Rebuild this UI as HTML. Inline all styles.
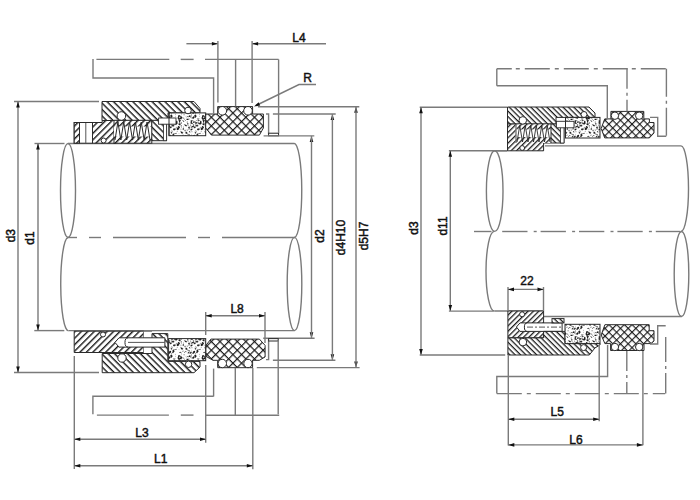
<!DOCTYPE html>
<html><head><meta charset="utf-8"><style>
html,body{margin:0;padding:0;background:#fff;}
svg{display:block;}
text{font-family:"Liberation Sans",sans-serif;fill:#111;stroke:#111;stroke-width:0.45px;}
</style></head><body>
<svg width="700" height="500" viewBox="0 0 700 500">
<defs>
<filter id="bl" x="0" y="0" width="700" height="500" filterUnits="userSpaceOnUse"><feGaussianBlur stdDeviation="0.45"/></filter>
<pattern id="hA" patternUnits="userSpaceOnUse" width="4.55" height="4.55" patternTransform="rotate(-45)"><rect width="4.55" height="4.55" fill="#fff"/><line x1="0" y1="0.7" x2="4.55" y2="0.7" stroke="#1a1a1a" stroke-width="1.4"/></pattern>
<pattern id="hB" patternUnits="userSpaceOnUse" width="4.55" height="4.55" patternTransform="rotate(45)"><rect width="4.55" height="4.55" fill="#fff"/><line x1="0" y1="0.7" x2="4.55" y2="0.7" stroke="#1a1a1a" stroke-width="1.4"/></pattern>
<pattern id="xh" patternUnits="userSpaceOnUse" width="6.1" height="6.1" patternTransform="rotate(45)"><rect width="6.1" height="6.1" fill="#fff"/><line x1="0" y1="0.6" x2="6.1" y2="0.6" stroke="#151515" stroke-width="1.15"/><line x1="0.6" y1="0" x2="0.6" y2="6.1" stroke="#151515" stroke-width="1.15"/></pattern>
<pattern id="hA2" patternUnits="userSpaceOnUse" width="3.8" height="3.8" patternTransform="rotate(-45)"><rect width="3.8" height="3.8" fill="#fff"/><line x1="0" y1="0.65" x2="3.8" y2="0.65" stroke="#1a1a1a" stroke-width="1.25"/></pattern>
<pattern id="hB2" patternUnits="userSpaceOnUse" width="3.8" height="3.8" patternTransform="rotate(45)"><rect width="3.8" height="3.8" fill="#fff"/><line x1="0" y1="0.65" x2="3.8" y2="0.65" stroke="#1a1a1a" stroke-width="1.25"/></pattern>
<pattern id="xh2" patternUnits="userSpaceOnUse" width="5.45" height="5.45" patternTransform="rotate(45)"><rect width="5.45" height="5.45" fill="#fff"/><line x1="0" y1="0.6" x2="5.45" y2="0.6" stroke="#151515" stroke-width="1.1"/><line x1="0.6" y1="0" x2="0.6" y2="5.45" stroke="#151515" stroke-width="1.1"/></pattern>
<pattern id="st" patternUnits="userSpaceOnUse" width="24" height="24"><rect width="24" height="24" fill="#fff"/><ellipse cx="7.77" cy="3.62" rx="0.80" ry="0.76" fill="#1a1a1a" transform="rotate(96 7.77 3.62)"/><ellipse cx="8.78" cy="1.39" rx="0.72" ry="0.70" fill="#1a1a1a" transform="rotate(78 8.78 1.39)"/><ellipse cx="1.68" cy="2.18" rx="1.06" ry="0.67" fill="#1a1a1a" transform="rotate(22 1.68 2.18)"/><ellipse cx="5.36" cy="15.06" rx="1.23" ry="0.88" fill="#1a1a1a" transform="rotate(71 5.36 15.06)"/><ellipse cx="23.43" cy="1.12" rx="1.01" ry="0.84" fill="#1a1a1a" transform="rotate(26 23.43 1.12)"/><ellipse cx="2.83" cy="7.40" rx="0.93" ry="0.83" fill="#1a1a1a" transform="rotate(105 2.83 7.40)"/><ellipse cx="15.33" cy="8.94" rx="0.75" ry="0.72" fill="#1a1a1a" transform="rotate(11 15.33 8.94)"/><ellipse cx="4.94" cy="16.33" rx="0.82" ry="0.67" fill="#1a1a1a" transform="rotate(105 4.94 16.33)"/><ellipse cx="10.88" cy="7.19" rx="1.22" ry="0.82" fill="#1a1a1a" transform="rotate(44 10.88 7.19)"/><ellipse cx="13.79" cy="12.60" rx="1.28" ry="0.85" fill="#1a1a1a" transform="rotate(52 13.79 12.60)"/><ellipse cx="23.52" cy="2.83" rx="1.02" ry="0.67" fill="#1a1a1a" transform="rotate(27 23.52 2.83)"/><ellipse cx="11.74" cy="0.94" rx="1.18" ry="0.77" fill="#1a1a1a" transform="rotate(103 11.74 0.94)"/><ellipse cx="21.01" cy="7.53" rx="1.10" ry="0.78" fill="#1a1a1a" transform="rotate(104 21.01 7.53)"/><ellipse cx="10.95" cy="20.16" rx="1.17" ry="0.88" fill="#1a1a1a" transform="rotate(120 10.95 20.16)"/><ellipse cx="1.46" cy="16.84" rx="1.29" ry="0.76" fill="#1a1a1a" transform="rotate(148 1.46 16.84)"/><ellipse cx="6.83" cy="9.26" rx="0.78" ry="0.77" fill="#1a1a1a" transform="rotate(83 6.83 9.26)"/><ellipse cx="4.03" cy="2.81" rx="0.81" ry="0.52" fill="#1a1a1a" transform="rotate(23 4.03 2.81)"/><ellipse cx="5.94" cy="9.38" rx="0.90" ry="0.85" fill="#1a1a1a" transform="rotate(81 5.94 9.38)"/><ellipse cx="13.19" cy="21.20" rx="1.33" ry="0.83" fill="#1a1a1a" transform="rotate(50 13.19 21.20)"/><ellipse cx="9.97" cy="8.61" rx="1.43" ry="0.85" fill="#1a1a1a" transform="rotate(27 9.97 8.61)"/><ellipse cx="4.23" cy="5.57" rx="0.79" ry="0.59" fill="#1a1a1a" transform="rotate(106 4.23 5.57)"/><ellipse cx="6.31" cy="0.10" rx="0.84" ry="0.67" fill="#1a1a1a" transform="rotate(102 6.31 0.10)"/><ellipse cx="22.87" cy="16.57" rx="1.01" ry="0.71" fill="#1a1a1a" transform="rotate(122 22.87 16.57)"/><ellipse cx="1.30" cy="21.59" rx="1.31" ry="0.81" fill="#1a1a1a" transform="rotate(144 1.30 21.59)"/><ellipse cx="9.42" cy="9.58" rx="0.78" ry="0.54" fill="#1a1a1a" transform="rotate(11 9.42 9.58)"/><ellipse cx="1.62" cy="5.01" rx="0.70" ry="0.56" fill="#1a1a1a" transform="rotate(9 1.62 5.01)"/><ellipse cx="0.01" cy="3.63" rx="0.68" ry="0.54" fill="#1a1a1a" transform="rotate(5 0.01 3.63)"/><ellipse cx="20.98" cy="14.74" rx="0.66" ry="0.56" fill="#1a1a1a" transform="rotate(63 20.98 14.74)"/><ellipse cx="8.74" cy="2.95" rx="1.42" ry="0.84" fill="#1a1a1a" transform="rotate(84 8.74 2.95)"/><ellipse cx="11.61" cy="2.06" rx="0.67" ry="0.54" fill="#1a1a1a" transform="rotate(48 11.61 2.06)"/><ellipse cx="19.89" cy="3.87" rx="0.85" ry="0.51" fill="#1a1a1a" transform="rotate(95 19.89 3.87)"/><ellipse cx="3.52" cy="13.04" rx="0.70" ry="0.51" fill="#1a1a1a" transform="rotate(176 3.52 13.04)"/><ellipse cx="20.72" cy="16.71" rx="0.76" ry="0.60" fill="#1a1a1a" transform="rotate(30 20.72 16.71)"/><ellipse cx="18.53" cy="12.78" rx="1.00" ry="0.81" fill="#1a1a1a" transform="rotate(40 18.53 12.78)"/><ellipse cx="19.48" cy="23.64" rx="1.32" ry="0.84" fill="#1a1a1a" transform="rotate(147 19.48 23.64)"/><ellipse cx="17.76" cy="5.44" rx="0.88" ry="0.71" fill="#1a1a1a" transform="rotate(5 17.76 5.44)"/><ellipse cx="0.67" cy="6.71" rx="0.90" ry="0.60" fill="#1a1a1a" transform="rotate(172 0.67 6.71)"/><ellipse cx="10.73" cy="22.49" rx="1.49" ry="0.90" fill="#1a1a1a" transform="rotate(66 10.73 22.49)"/><ellipse cx="5.29" cy="5.44" rx="0.66" ry="0.58" fill="#1a1a1a" transform="rotate(112 5.29 5.44)"/><ellipse cx="21.61" cy="20.17" rx="1.01" ry="0.69" fill="#1a1a1a" transform="rotate(144 21.61 20.17)"/><ellipse cx="2.03" cy="15.85" rx="1.34" ry="0.86" fill="#1a1a1a" transform="rotate(135 2.03 15.85)"/><ellipse cx="11.47" cy="4.28" rx="1.01" ry="0.82" fill="#1a1a1a" transform="rotate(144 11.47 4.28)"/><ellipse cx="23.32" cy="9.50" rx="1.10" ry="0.66" fill="#1a1a1a" transform="rotate(130 23.32 9.50)"/><ellipse cx="4.08" cy="3.05" rx="0.92" ry="0.56" fill="#1a1a1a" transform="rotate(145 4.08 3.05)"/><ellipse cx="3.51" cy="19.84" rx="1.30" ry="0.89" fill="#1a1a1a" transform="rotate(63 3.51 19.84)"/><ellipse cx="13.17" cy="3.14" rx="0.85" ry="0.51" fill="#1a1a1a" transform="rotate(117 13.17 3.14)"/><ellipse cx="12.64" cy="22.41" rx="1.08" ry="0.67" fill="#1a1a1a" transform="rotate(149 12.64 22.41)"/><ellipse cx="5.07" cy="6.04" rx="0.72" ry="0.62" fill="#1a1a1a" transform="rotate(106 5.07 6.04)"/><circle cx="6.22" cy="10.06" r="0.33" fill="#333"/><circle cx="21.84" cy="8.49" r="0.41" fill="#333"/><circle cx="14.00" cy="21.70" r="0.41" fill="#333"/><circle cx="22.03" cy="12.04" r="0.43" fill="#333"/><circle cx="12.56" cy="0.45" r="0.41" fill="#333"/><circle cx="4.39" cy="0.09" r="0.50" fill="#333"/><circle cx="4.14" cy="11.36" r="0.48" fill="#333"/><circle cx="13.36" cy="7.82" r="0.43" fill="#333"/><circle cx="13.33" cy="18.82" r="0.33" fill="#333"/><circle cx="13.45" cy="5.96" r="0.37" fill="#333"/><circle cx="18.53" cy="12.19" r="0.44" fill="#333"/><circle cx="18.24" cy="21.90" r="0.41" fill="#333"/><circle cx="14.70" cy="12.13" r="0.43" fill="#333"/><circle cx="16.63" cy="10.86" r="0.43" fill="#333"/><circle cx="11.47" cy="22.60" r="0.47" fill="#333"/><circle cx="21.04" cy="22.61" r="0.36" fill="#333"/><circle cx="13.43" cy="22.64" r="0.51" fill="#333"/><circle cx="3.29" cy="2.92" r="0.41" fill="#333"/><circle cx="1.74" cy="5.78" r="0.32" fill="#333"/><circle cx="16.07" cy="18.81" r="0.52" fill="#333"/><circle cx="3.71" cy="17.19" r="0.47" fill="#333"/><circle cx="3.43" cy="21.19" r="0.54" fill="#333"/><circle cx="5.27" cy="22.86" r="0.40" fill="#333"/><circle cx="11.69" cy="23.76" r="0.51" fill="#333"/><circle cx="3.88" cy="10.36" r="0.43" fill="#333"/><circle cx="8.14" cy="4.70" r="0.38" fill="#333"/><circle cx="17.33" cy="0.47" r="0.44" fill="#333"/><circle cx="10.57" cy="0.43" r="0.38" fill="#333"/><circle cx="14.97" cy="12.29" r="0.32" fill="#333"/><circle cx="23.64" cy="18.92" r="0.54" fill="#333"/><circle cx="2.51" cy="6.37" r="0.31" fill="#333"/><circle cx="18.70" cy="6.49" r="0.33" fill="#333"/><circle cx="10.13" cy="21.87" r="0.50" fill="#333"/><circle cx="6.21" cy="3.58" r="0.53" fill="#333"/><circle cx="13.69" cy="16.81" r="0.32" fill="#333"/><circle cx="1.38" cy="16.52" r="0.41" fill="#333"/><circle cx="1.74" cy="22.52" r="0.46" fill="#333"/><circle cx="19.24" cy="2.01" r="0.51" fill="#333"/><circle cx="1.60" cy="20.71" r="0.41" fill="#333"/><circle cx="8.14" cy="13.27" r="0.53" fill="#333"/><circle cx="6.43" cy="3.10" r="0.43" fill="#333"/><circle cx="5.72" cy="2.63" r="0.34" fill="#333"/><circle cx="1.21" cy="4.84" r="0.38" fill="#333"/><circle cx="7.32" cy="18.23" r="0.37" fill="#333"/><circle cx="12.00" cy="4.27" r="0.39" fill="#333"/><circle cx="0.44" cy="6.01" r="0.30" fill="#333"/><circle cx="17.59" cy="13.23" r="0.35" fill="#333"/><circle cx="11.39" cy="22.43" r="0.33" fill="#333"/><circle cx="19.65" cy="10.37" r="0.42" fill="#333"/><circle cx="20.03" cy="9.43" r="0.43" fill="#333"/><circle cx="16.51" cy="23.58" r="0.39" fill="#333"/><circle cx="19.97" cy="16.96" r="0.46" fill="#333"/><circle cx="9.71" cy="8.34" r="0.31" fill="#333"/><circle cx="3.12" cy="1.70" r="0.49" fill="#333"/><circle cx="6.13" cy="3.92" r="0.32" fill="#333"/><circle cx="20.19" cy="20.89" r="0.47" fill="#333"/><circle cx="6.77" cy="5.81" r="0.37" fill="#333"/><circle cx="11.03" cy="3.78" r="0.41" fill="#333"/><circle cx="6.32" cy="23.08" r="0.54" fill="#333"/><circle cx="13.13" cy="5.87" r="0.54" fill="#333"/><circle cx="7.43" cy="8.56" r="0.30" fill="#333"/><circle cx="9.16" cy="11.39" r="0.43" fill="#333"/><circle cx="4.82" cy="12.11" r="0.30" fill="#333"/><circle cx="6.34" cy="2.15" r="0.40" fill="#333"/><circle cx="1.00" cy="0.54" r="0.38" fill="#333"/><circle cx="5.59" cy="14.05" r="0.43" fill="#333"/><circle cx="18.01" cy="15.78" r="0.48" fill="#333"/><circle cx="21.10" cy="9.35" r="0.38" fill="#333"/><circle cx="23.63" cy="3.59" r="0.48" fill="#333"/><circle cx="15.44" cy="1.05" r="0.51" fill="#333"/><circle cx="21.41" cy="15.06" r="0.48" fill="#333"/><circle cx="19.49" cy="3.34" r="0.43" fill="#333"/><circle cx="12.10" cy="20.04" r="0.50" fill="#333"/><circle cx="19.83" cy="14.02" r="0.52" fill="#333"/><circle cx="16.39" cy="16.64" r="0.36" fill="#333"/><circle cx="0.75" cy="3.19" r="0.39" fill="#333"/><circle cx="2.52" cy="20.06" r="0.44" fill="#333"/><circle cx="15.07" cy="15.03" r="0.47" fill="#333"/><circle cx="11.74" cy="0.08" r="0.50" fill="#333"/><circle cx="17.96" cy="12.07" r="0.43" fill="#333"/><circle cx="15.82" cy="1.59" r="0.48" fill="#333"/><circle cx="6.05" cy="1.79" r="0.37" fill="#333"/><circle cx="17.50" cy="4.93" r="0.48" fill="#333"/><circle cx="23.42" cy="11.85" r="0.40" fill="#333"/><circle cx="11.50" cy="16.41" r="0.49" fill="#333"/><circle cx="14.81" cy="15.43" r="0.32" fill="#333"/><circle cx="3.54" cy="6.09" r="0.49" fill="#333"/><circle cx="7.31" cy="13.63" r="0.30" fill="#333"/><circle cx="1.46" cy="6.45" r="0.47" fill="#333"/><circle cx="16.61" cy="16.22" r="0.37" fill="#333"/><circle cx="12.40" cy="11.15" r="0.42" fill="#333"/><circle cx="2.84" cy="21.45" r="0.35" fill="#333"/><circle cx="23.48" cy="22.47" r="0.30" fill="#333"/><circle cx="11.02" cy="19.68" r="0.54" fill="#333"/><circle cx="10.79" cy="6.45" r="0.35" fill="#333"/><circle cx="22.69" cy="5.06" r="0.45" fill="#333"/><circle cx="3.40" cy="12.58" r="0.54" fill="#333"/><circle cx="3.18" cy="19.69" r="0.43" fill="#333"/><circle cx="21.28" cy="16.88" r="0.36" fill="#333"/><circle cx="21.54" cy="11.67" r="0.31" fill="#333"/><circle cx="0.09" cy="11.80" r="0.41" fill="#333"/><circle cx="7.25" cy="3.38" r="0.39" fill="#333"/><circle cx="7.59" cy="20.17" r="0.30" fill="#333"/><circle cx="18.02" cy="20.14" r="0.33" fill="#333"/><circle cx="22.23" cy="17.11" r="0.53" fill="#333"/><circle cx="6.96" cy="8.93" r="0.40" fill="#333"/><circle cx="23.97" cy="14.14" r="0.39" fill="#333"/><circle cx="10.27" cy="6.60" r="0.31" fill="#333"/><circle cx="2.44" cy="20.03" r="0.37" fill="#333"/><circle cx="22.45" cy="5.98" r="0.37" fill="#333"/><circle cx="12.26" cy="4.56" r="0.39" fill="#333"/><circle cx="22.95" cy="21.22" r="0.50" fill="#333"/><circle cx="15.14" cy="21.92" r="0.54" fill="#333"/><circle cx="13.18" cy="17.27" r="0.31" fill="#333"/><circle cx="17.58" cy="10.82" r="0.49" fill="#333"/><circle cx="15.47" cy="6.87" r="0.31" fill="#333"/><circle cx="22.24" cy="3.06" r="0.42" fill="#333"/><circle cx="8.25" cy="7.15" r="0.48" fill="#333"/><circle cx="23.43" cy="6.24" r="0.46" fill="#333"/><circle cx="7.22" cy="13.38" r="0.40" fill="#333"/><circle cx="4.02" cy="3.88" r="0.35" fill="#333"/><circle cx="21.74" cy="11.93" r="0.36" fill="#333"/><circle cx="21.75" cy="23.92" r="0.41" fill="#333"/><circle cx="3.35" cy="4.62" r="0.32" fill="#333"/><circle cx="8.21" cy="2.19" r="0.36" fill="#333"/><circle cx="6.20" cy="13.67" r="0.52" fill="#333"/><circle cx="17.99" cy="9.91" r="0.40" fill="#333"/><circle cx="12.58" cy="9.04" r="0.38" fill="#333"/><circle cx="1.49" cy="6.66" r="0.54" fill="#333"/><circle cx="3.02" cy="12.08" r="0.46" fill="#333"/><circle cx="20.71" cy="5.18" r="0.37" fill="#333"/><circle cx="5.96" cy="9.59" r="0.41" fill="#333"/><circle cx="22.89" cy="20.37" r="0.52" fill="#333"/><circle cx="0.52" cy="0.77" r="0.48" fill="#333"/><circle cx="21.50" cy="11.36" r="0.45" fill="#333"/><circle cx="0.00" cy="9.40" r="0.53" fill="#333"/><circle cx="19.81" cy="20.53" r="0.54" fill="#333"/><circle cx="5.96" cy="2.62" r="0.34" fill="#333"/><circle cx="12.54" cy="16.37" r="0.54" fill="#333"/><circle cx="17.32" cy="15.54" r="0.49" fill="#333"/><circle cx="10.98" cy="13.24" r="0.31" fill="#333"/><circle cx="18.78" cy="5.58" r="0.53" fill="#333"/><circle cx="15.49" cy="7.29" r="0.33" fill="#333"/><circle cx="6.04" cy="15.27" r="0.47" fill="#333"/><circle cx="2.69" cy="1.69" r="0.43" fill="#333"/><circle cx="13.99" cy="9.31" r="0.36" fill="#333"/><circle cx="14.43" cy="0.25" r="0.38" fill="#333"/><circle cx="11.06" cy="23.01" r="0.46" fill="#333"/><circle cx="21.21" cy="11.41" r="0.36" fill="#333"/><circle cx="5.93" cy="23.05" r="0.48" fill="#333"/><circle cx="7.38" cy="0.52" r="0.42" fill="#333"/><circle cx="16.19" cy="10.08" r="0.36" fill="#333"/><circle cx="16.02" cy="22.20" r="0.36" fill="#333"/><circle cx="0.82" cy="8.11" r="0.41" fill="#333"/><circle cx="16.38" cy="4.75" r="0.50" fill="#333"/><circle cx="17.74" cy="12.12" r="0.35" fill="#333"/><circle cx="23.28" cy="7.48" r="0.51" fill="#333"/><circle cx="5.54" cy="5.31" r="0.49" fill="#333"/><circle cx="7.08" cy="22.85" r="0.42" fill="#333"/><circle cx="4.50" cy="5.36" r="0.40" fill="#333"/></pattern>
</defs>
<rect width="700" height="500" fill="#fff"/>
<g>
<line x1="68" y1="143.5" x2="294" y2="143.5" stroke="#7a7a7a" stroke-width="1.4" />
<line x1="68.5" y1="330.6" x2="294.5" y2="330.6" stroke="#7a7a7a" stroke-width="1.4" />
<ellipse cx="68" cy="190.5" rx="7.5" ry="47" fill="none" stroke="#7a7a7a" stroke-width="1.4"/>
<path d="M68,237.5 A7.5,46.5 0 0 0 68.5,330.6" stroke="#7a7a7a" stroke-width="1.4" fill="none" />
<path d="M294,143.5 A7.5,47 0 0 1 294.5,237.5" stroke="#7a7a7a" stroke-width="1.4" fill="none" />
<ellipse cx="294.5" cy="284" rx="7.3" ry="46.6" fill="none" stroke="#7a7a7a" stroke-width="1.4"/>
<line x1="67" y1="237.5" x2="77" y2="237.5" stroke="#7a7a7a" stroke-width="1.4" />
<line x1="89" y1="237.5" x2="101" y2="237.5" stroke="#7a7a7a" stroke-width="1.4" />
<line x1="113" y1="237.5" x2="186" y2="237.5" stroke="#7a7a7a" stroke-width="1.4" />
<line x1="198" y1="237.5" x2="210" y2="237.5" stroke="#7a7a7a" stroke-width="1.4" />
<line x1="222" y1="237.5" x2="295" y2="237.5" stroke="#7a7a7a" stroke-width="1.4" />
<polygon points="102,101.5 194,101.5 200,108.5 200,112.9 168,112.9 168,120.5 102,120.5" stroke="#2a2a2a" stroke-width="1.0" fill="url(#hB)" />
<polygon points="92.5,122.5 102.2,122.5 102.2,120.5 116,120.5 116,143.2 92.5,143.2" stroke="#2a2a2a" stroke-width="1.0" fill="url(#hA)" />
<rect x="114" y="120.3" width="37.80000000000001" height="22.89999999999999" fill="url(#hA)" stroke="#2a2a2a" stroke-width="1.0"/>
<rect x="114" y="126.5" width="37.80000000000001" height="10.0" fill="#fff" stroke="#2a2a2a" stroke-width="0"/>
<polyline points="115.0,140 117.91666666666667,122 120.83333333333333,140 123.75,122 126.66666666666667,140 129.58333333333334,122 132.5,140 135.41666666666666,122 138.33333333333334,140 141.25,122 144.16666666666666,140 147.08333333333334,122 150.0,140" stroke="#2a2a2a" stroke-width="1.0" fill="none" />
<polygon points="151.8,120.3 166.6,120.3 166.6,140.7 151.8,140.7" stroke="#2a2a2a" stroke-width="1.0" fill="url(#hB)" />
<rect x="74.2" y="122.5" width="18.299999999999997" height="20.69999999999999" fill="#fff" stroke="#2a2a2a" stroke-width="1.0"/>
<rect x="74.2" y="122.5" width="5.299999999999997" height="20.69999999999999" fill="url(#hA)" stroke="#2a2a2a" stroke-width="1.0"/>
<line x1="85.8" y1="123" x2="85.8" y2="143" stroke="#555" stroke-width="1.0" />
<circle cx="121.4" cy="116" r="4.3" fill="#fff" stroke="#2a2a2a" stroke-width="1.0"/>
<circle cx="103.6" cy="140.5" r="2.5" fill="#fff" stroke="#2a2a2a" stroke-width="1.0"/>
<rect x="163.6" y="120.3" width="3.0" height="20.39999999999999" fill="#fff" stroke="#2a2a2a" stroke-width="0.8"/>
<rect x="169" y="112.9" width="36.69999999999999" height="22.799999999999983" fill="url(#st)" stroke="#2a2a2a" stroke-width="1.0"/>
<rect x="158.6" y="118" width="17.400000000000006" height="6.200000000000003" fill="#fff" stroke="#2a2a2a" stroke-width="0.9"/>
<line x1="169" y1="112.9" x2="169" y2="135.7" stroke="#2a2a2a" stroke-width="1" />
<circle cx="188" cy="110.5" r="3.3" fill="#fff" stroke="#2a2a2a" stroke-width="1.0"/>
<polygon points="217.7,106.6 252.6,106.6 252.6,114 263.4,114 263.4,128 259.4,135.1 211.4,135.1 205.7,128 205.7,114 217.7,114" stroke="#2a2a2a" stroke-width="1.0" fill="url(#xh)" />
<circle cx="222.3" cy="110.8" r="4.3" fill="#fff" stroke="#2a2a2a" stroke-width="1.0"/>
<circle cx="248" cy="110.8" r="4.3" fill="#fff" stroke="#2a2a2a" stroke-width="1.0"/>
<polyline points="266,114 268.6,114 268.6,133.6 278.6,133.6" stroke="#7a7a7a" stroke-width="1.4" fill="none" />
<rect x="268.6" y="133.2" width="10.0" height="2.6000000000000227" fill="#fff" stroke="#2a2a2a" stroke-width="1.0"/>
<line x1="96.4" y1="59.4" x2="169.3" y2="59.4" stroke="#7a7a7a" stroke-width="1.4" />
<line x1="180.7" y1="59.4" x2="193.6" y2="59.4" stroke="#7a7a7a" stroke-width="1.4" />
<line x1="205" y1="59.4" x2="278.6" y2="59.4" stroke="#7a7a7a" stroke-width="1.4" />
<polyline points="93,59 93,78 213.6,78 213.6,113.6" stroke="#7a7a7a" stroke-width="1.4" fill="none" />
<line x1="278.6" y1="59.4" x2="278.6" y2="133" stroke="#7a7a7a" stroke-width="1.4" />
<line x1="235.6" y1="59.4" x2="235.6" y2="106.4" stroke="#7a7a7a" stroke-width="1.4" />
<line x1="186.4" y1="43.7" x2="217.9" y2="43.7" stroke="#7a7a7a" stroke-width="1.4" />
<polygon points="217.90,43.70 211.90,41.90 211.90,45.50" fill="#111"/>
<line x1="252.1" y1="43.7" x2="326" y2="43.7" stroke="#7a7a7a" stroke-width="1.4" />
<polygon points="252.10,43.70 258.10,41.90 258.10,45.50" fill="#111"/>
<line x1="217.9" y1="40.9" x2="217.9" y2="102.5" stroke="#7a7a7a" stroke-width="1.4" />
<line x1="252.1" y1="40.9" x2="252.1" y2="103" stroke="#7a7a7a" stroke-width="1.4" />
<text x="299" y="37.8" text-anchor="middle" dominant-baseline="central" font-size="12">L4</text>
<polyline points="316,84.5 299,84.5 256,105.5" stroke="#7a7a7a" stroke-width="1.4" fill="none" />
<polygon points="254.00,106.50 258.60,102.25 260.18,105.48" fill="#111"/>
<text x="307.5" y="78" text-anchor="middle" dominant-baseline="central" font-size="12">R</text>
<line x1="257.9" y1="106.7" x2="359.3" y2="106.7" stroke="#7a7a7a" stroke-width="1.4" />
<polygon points="356.00,106.70 354.20,112.70 357.80,112.70" fill="#111"/>
<line x1="272.9" y1="114" x2="335.7" y2="114" stroke="#7a7a7a" stroke-width="1.4" />
<polygon points="332.40,114.00 330.60,120.00 334.20,120.00" fill="#111"/>
<line x1="263.6" y1="135.9" x2="314.3" y2="135.9" stroke="#7a7a7a" stroke-width="1.4" />
<polygon points="311.50,135.90 309.70,141.90 313.30,141.90" fill="#111"/>
<line x1="256.8" y1="367.6" x2="359.6" y2="367.6" stroke="#7a7a7a" stroke-width="1.4" />
<polygon points="356.00,367.60 354.20,361.60 357.80,361.60" fill="#111"/>
<line x1="272.9" y1="360.3" x2="335.4" y2="360.3" stroke="#7a7a7a" stroke-width="1.4" />
<polygon points="332.40,360.30 330.60,354.30 334.20,354.30" fill="#111"/>
<line x1="263.2" y1="338.2" x2="314.6" y2="338.2" stroke="#7a7a7a" stroke-width="1.4" />
<polygon points="311.50,338.20 309.70,332.20 313.30,332.20" fill="#111"/>
<line x1="356" y1="106.7" x2="356" y2="367.6" stroke="#7a7a7a" stroke-width="1.4" />
<line x1="332.4" y1="114" x2="332.4" y2="360.3" stroke="#7a7a7a" stroke-width="1.4" />
<line x1="311.5" y1="135.9" x2="311.5" y2="338.2" stroke="#7a7a7a" stroke-width="1.4" />
<text x="0" y="0" transform="translate(320,236) rotate(-90)" text-anchor="middle" dominant-baseline="central" font-size="12">d2</text>
<text x="0" y="0" transform="translate(341,237.5) rotate(-90)" text-anchor="middle" dominant-baseline="central" font-size="12">d4H10</text>
<text x="0" y="0" transform="translate(364,236) rotate(-90)" text-anchor="middle" dominant-baseline="central" font-size="12">d5H7</text>
<line x1="14" y1="101.5" x2="99" y2="101.5" stroke="#7a7a7a" stroke-width="1.4" />
<line x1="14" y1="372.5" x2="99" y2="372.5" stroke="#7a7a7a" stroke-width="1.4" />
<line x1="18" y1="101.5" x2="18" y2="372.5" stroke="#7a7a7a" stroke-width="1.4" />
<polygon points="18.00,101.50 16.20,107.50 19.80,107.50" fill="#111"/>
<polygon points="18.00,372.50 16.20,366.50 19.80,366.50" fill="#111"/>
<line x1="34.5" y1="143.5" x2="64.5" y2="143.5" stroke="#7a7a7a" stroke-width="1.4" />
<line x1="34.3" y1="330.6" x2="64.3" y2="330.6" stroke="#7a7a7a" stroke-width="1.4" />
<line x1="38" y1="143.5" x2="38" y2="330.6" stroke="#7a7a7a" stroke-width="1.4" />
<polygon points="38.00,143.50 36.20,149.50 39.80,149.50" fill="#111"/>
<polygon points="38.00,330.60 36.20,324.60 39.80,324.60" fill="#111"/>
<text x="0" y="0" transform="translate(10.7,235.7) rotate(-90)" text-anchor="middle" dominant-baseline="central" font-size="12">d3</text>
<text x="0" y="0" transform="translate(30,238) rotate(-90)" text-anchor="middle" dominant-baseline="central" font-size="12">d1</text>
<polygon points="74.2,331.2 143.8,331.2 143.8,352.5 74.2,352.5" stroke="#2a2a2a" stroke-width="1.0" fill="url(#hA)" />
<rect x="143.8" y="331.2" width="8.199999999999989" height="22.30000000000001" fill="#fff" stroke="#2a2a2a" stroke-width="0"/>
<line x1="143.8" y1="331.2" x2="152" y2="331.2" stroke="#7a7a7a" stroke-width="1.4" />
<circle cx="103" cy="334.5" r="2.5" fill="#fff" stroke="#2a2a2a" stroke-width="1.0"/>
<polygon points="102.2,353.5 152,353.5 152,333.6 167.8,333.6 167.8,361.4 200,361.4 200,367 194,372.7 102.2,372.7" stroke="#2a2a2a" stroke-width="1.0" fill="url(#hB)" />
<circle cx="122" cy="358" r="4.2" fill="#fff" stroke="#2a2a2a" stroke-width="1.0"/>
<path d="M114.9,342.4 L119,337.8 L164.9,337.8 L164.9,347.1 L119,347.1 Z" stroke="#2a2a2a" stroke-width="1.0" fill="#fff" />
<path d="M128,337.8 A3,4.6 0 0 0 128,347.1" stroke="#2a2a2a" stroke-width="1.0" fill="none" />
<line x1="128" y1="342.4" x2="164.5" y2="342.4" stroke="#2a2a2a" stroke-width="0.8" />
<rect x="168.6" y="338.6" width="37.099999999999994" height="22.099999999999966" fill="url(#st)" stroke="#2a2a2a" stroke-width="1.0"/>
<circle cx="188.6" cy="364.3" r="3.2" fill="#fff" stroke="#2a2a2a" stroke-width="1.0"/>
<polygon points="210.9,339.1 259.4,339.1 265.1,345.4 265.1,356.9 259.4,360.3 252.6,360.3 252.6,367.7 217.7,367.7 217.7,360.3 213,360.3 205.9,356.3 205.9,345.4" stroke="#2a2a2a" stroke-width="1.0" fill="url(#xh)" />
<circle cx="222.3" cy="363.5" r="4.2" fill="#fff" stroke="#2a2a2a" stroke-width="1.0"/>
<circle cx="248" cy="363.5" r="4.2" fill="#fff" stroke="#2a2a2a" stroke-width="1.0"/>
<polyline points="266,359.6 268.6,359.6 268.6,338.6 278.2,338.6" stroke="#7a7a7a" stroke-width="1.4" fill="none" />
<rect x="268.6" y="338.6" width="9.599999999999966" height="2.3999999999999773" fill="#fff" stroke="#2a2a2a" stroke-width="1.0"/>
<line x1="278.2" y1="340" x2="278.2" y2="414.3" stroke="#7a7a7a" stroke-width="1.4" />
<line x1="205.7" y1="312" x2="205.7" y2="335" stroke="#7a7a7a" stroke-width="1.4" />
<line x1="265" y1="312" x2="265" y2="343" stroke="#7a7a7a" stroke-width="1.4" />
<line x1="205.7" y1="315.7" x2="265" y2="315.7" stroke="#7a7a7a" stroke-width="1.4" />
<polygon points="205.70,315.70 211.70,313.90 211.70,317.50" fill="#111"/>
<polygon points="265.00,315.70 259.00,313.90 259.00,317.50" fill="#111"/>
<text x="237.1" y="309" text-anchor="middle" dominant-baseline="central" font-size="12">L8</text>
<line x1="205.7" y1="365" x2="205.7" y2="442.8" stroke="#7a7a7a" stroke-width="1.4" />
<line x1="213.6" y1="368.6" x2="213.6" y2="396.5" stroke="#7a7a7a" stroke-width="1.4" />
<polyline points="92.9,414.2 92.9,396.2 213.6,396.2" stroke="#7a7a7a" stroke-width="1.4" fill="none" />
<line x1="96.9" y1="415.1" x2="168.9" y2="415.1" stroke="#7a7a7a" stroke-width="1.4" />
<line x1="180.8" y1="415.1" x2="193.5" y2="415.1" stroke="#7a7a7a" stroke-width="1.4" />
<line x1="206" y1="415.2" x2="279.2" y2="415.2" stroke="#7a7a7a" stroke-width="1.4" />
<line x1="235.3" y1="368" x2="235.3" y2="415.2" stroke="#7a7a7a" stroke-width="1.4" />
<line x1="252.8" y1="368" x2="252.8" y2="469.2" stroke="#7a7a7a" stroke-width="1.4" />
<line x1="74.3" y1="356" x2="74.3" y2="469" stroke="#7a7a7a" stroke-width="1.4" />
<line x1="74.3" y1="439.3" x2="206" y2="439.3" stroke="#7a7a7a" stroke-width="1.4" />
<polygon points="74.30,439.30 80.30,437.50 80.30,441.10" fill="#111"/>
<polygon points="206.00,439.30 200.00,437.50 200.00,441.10" fill="#111"/>
<line x1="74.3" y1="465.8" x2="252.8" y2="465.8" stroke="#7a7a7a" stroke-width="1.4" />
<polygon points="74.30,465.80 80.30,464.00 80.30,467.60" fill="#111"/>
<polygon points="252.80,465.80 246.80,464.00 246.80,467.60" fill="#111"/>
<text x="141.9" y="433" text-anchor="middle" dominant-baseline="central" font-size="12">L3</text>
<text x="160.8" y="459" text-anchor="middle" dominant-baseline="central" font-size="12">L1</text>
<line x1="494.5" y1="150.8" x2="507" y2="150.8" stroke="#7a7a7a" stroke-width="1.4" />
<line x1="545" y1="145.9" x2="681" y2="145.9" stroke="#7a7a7a" stroke-width="1.4" />
<ellipse cx="494.7" cy="191.1" rx="8.3" ry="40.3" fill="none" stroke="#7a7a7a" stroke-width="1.4"/>
<path d="M494.3,231.4 A8.3,39.8 0 0 0 494.3,311" stroke="#7a7a7a" stroke-width="1.4" fill="none" />
<path d="M681,145.9 A7.5,42.8 0 0 1 681,231.5" stroke="#7a7a7a" stroke-width="1.4" fill="none" />
<ellipse cx="681.5" cy="274" rx="7.3" ry="42.5" fill="none" stroke="#7a7a7a" stroke-width="1.4"/>
<line x1="494.3" y1="311" x2="543.6" y2="311" stroke="#7a7a7a" stroke-width="1.4" />
<line x1="543.6" y1="316.5" x2="681.5" y2="316.5" stroke="#7a7a7a" stroke-width="1.4" />
<line x1="494.3" y1="150.8" x2="507.5" y2="150.8" stroke="#7a7a7a" stroke-width="1.4" />
<line x1="474" y1="231.5" x2="491.5" y2="231.5" stroke="#7a7a7a" stroke-width="1.4" />
<line x1="502.2" y1="231.5" x2="527.5" y2="231.5" stroke="#7a7a7a" stroke-width="1.4" />
<line x1="533.7" y1="231.5" x2="536.7" y2="231.5" stroke="#7a7a7a" stroke-width="1.4" />
<line x1="540.6" y1="231.5" x2="565.9" y2="231.5" stroke="#7a7a7a" stroke-width="1.4" />
<line x1="572.1" y1="231.5" x2="575.1" y2="231.5" stroke="#7a7a7a" stroke-width="1.4" />
<line x1="579.0" y1="231.5" x2="604.3" y2="231.5" stroke="#7a7a7a" stroke-width="1.4" />
<line x1="610.5" y1="231.5" x2="613.5" y2="231.5" stroke="#7a7a7a" stroke-width="1.4" />
<line x1="617.4" y1="231.5" x2="642.6999999999999" y2="231.5" stroke="#7a7a7a" stroke-width="1.4" />
<line x1="648.9" y1="231.5" x2="651.9" y2="231.5" stroke="#7a7a7a" stroke-width="1.4" />
<line x1="655.8" y1="231.5" x2="680.3" y2="231.5" stroke="#7a7a7a" stroke-width="1.4" />
<polygon points="507.5,107 589,107 595,113 595,117.4 556,117.4 556,124 507.5,124" stroke="#2a2a2a" stroke-width="1.0" fill="url(#hB2)" />
<polygon points="507.5,124 551,124 551,143 543.6,143 543.6,150.8 507.5,150.8" stroke="#2a2a2a" stroke-width="1.0" fill="url(#hA2)" />
<rect x="516" y="124.5" width="35" height="18.5" fill="url(#hA2)" stroke="#2a2a2a" stroke-width="0"/>
<rect x="516" y="129.5" width="35" height="7.5" fill="#fff" stroke="#2a2a2a" stroke-width="0"/>
<line x1="516" y1="124.5" x2="516" y2="143" stroke="#7a7a7a" stroke-width="1.4" />
<polyline points="517.0,142 519.75,125.5 522.5,142 525.25,125.5 528.0,142 530.75,125.5 533.5,142 536.25,125.5 539.0,142 541.75,125.5 544.5,142 547.25,125.5 550.0,142" stroke="#2a2a2a" stroke-width="0.9" fill="none" />
<polygon points="551,124 564,124 564,143 551,143" stroke="#2a2a2a" stroke-width="1.0" fill="url(#hB2)" />
<rect x="560.5" y="124" width="3.5" height="19" fill="#fff" stroke="#2a2a2a" stroke-width="0.8"/>
<circle cx="522.8" cy="120.4" r="3.8" fill="#fff" stroke="#2a2a2a" stroke-width="1.0"/>
<circle cx="522.2" cy="148" r="2.4" fill="#fff" stroke="#2a2a2a" stroke-width="1.0"/>
<rect x="565.5" y="117.4" width="34.5" height="20.599999999999994" fill="url(#st)" stroke="#2a2a2a" stroke-width="1.0"/>
<rect x="556.4" y="121.3" width="17.600000000000023" height="6.5" fill="#fff" stroke="#2a2a2a" stroke-width="0.9"/>
<line x1="565.5" y1="117.4" x2="565.5" y2="138" stroke="#2a2a2a" stroke-width="1" />
<circle cx="584" cy="114.5" r="3" fill="#fff" stroke="#2a2a2a" stroke-width="1.0"/>
<polygon points="610.9,111.4 643.8,111.4 643.8,118.9 649.4,118.9 649.4,122.5 654,122.5 654,133 649.4,137.9 604.7,137.9 601.2,128.5 604.7,118.9 610.9,118.9" stroke="#2a2a2a" stroke-width="1.0" fill="url(#xh2)" />
<circle cx="614.9" cy="115.7" r="3.7" fill="#fff" stroke="#2a2a2a" stroke-width="1.0"/>
<circle cx="639.2" cy="115.7" r="3.7" fill="#fff" stroke="#2a2a2a" stroke-width="1.0"/>
<polyline points="650,117.4 657.7,117.4 657.7,136.3 666.3,136.3" stroke="#7a7a7a" stroke-width="1.4" fill="none" />
<polyline points="496.8,85.8 496.8,68.7" stroke="#7a7a7a" stroke-width="1.4" fill="none" />
<line x1="496.8" y1="68.7" x2="666.4" y2="68.7" stroke="#7a7a7a" stroke-width="1.4" stroke-dasharray="15,4,4,5,25,5,4,5,25,5,4,5,25,4,4,5,25,5"/>
<polyline points="496.8,85.8 607.3,85.8 607.3,118.9" stroke="#7a7a7a" stroke-width="1.4" fill="none" />
<line x1="627" y1="68.7" x2="627" y2="111.4" stroke="#7a7a7a" stroke-width="1.4" stroke-dasharray="20,4,3,4"/>
<line x1="666.4" y1="68.7" x2="666.4" y2="136.3" stroke="#7a7a7a" stroke-width="1.4" stroke-dasharray="28,4,3,4"/>
<line x1="419.7" y1="107.2" x2="507.1" y2="107.2" stroke="#7a7a7a" stroke-width="1.4" />
<line x1="448.9" y1="150.8" x2="494.3" y2="150.8" stroke="#7a7a7a" stroke-width="1.4" />
<line x1="421" y1="107.2" x2="421" y2="355" stroke="#7a7a7a" stroke-width="1.4" />
<polygon points="421.00,107.20 419.20,113.20 422.80,113.20" fill="#111"/>
<polygon points="421.00,355.00 419.20,349.00 422.80,349.00" fill="#111"/>
<line x1="450.3" y1="150.8" x2="450.3" y2="311.1" stroke="#7a7a7a" stroke-width="1.4" />
<polygon points="450.30,150.80 448.50,156.80 452.10,156.80" fill="#111"/>
<polygon points="450.30,311.10 448.50,305.10 452.10,305.10" fill="#111"/>
<line x1="419.7" y1="355" x2="505.2" y2="355" stroke="#7a7a7a" stroke-width="1.4" />
<line x1="448.9" y1="311.1" x2="493.7" y2="311.1" stroke="#7a7a7a" stroke-width="1.4" />
<text x="0" y="0" transform="translate(414,228) rotate(-90)" text-anchor="middle" dominant-baseline="central" font-size="12">d3</text>
<text x="0" y="0" transform="translate(443,226) rotate(-90)" text-anchor="middle" dominant-baseline="central" font-size="12">d11</text>
<polygon points="507.9,311 543.6,311 543.6,337.9 507.9,337.9" stroke="#2a2a2a" stroke-width="1.0" fill="url(#hA2)" />
<circle cx="522.1" cy="314.3" r="2.5" fill="#fff" stroke="#2a2a2a" stroke-width="1.0"/>
<path d="M516.4,327 L520,322.9 L562.1,322.9 L562.1,331.4 L520,331.4 Z" stroke="#2a2a2a" stroke-width="1.0" fill="#fff" />
<path d="M527,322.9 A2.6,4.25 0 0 0 527,331.4" stroke="#2a2a2a" stroke-width="1.0" fill="none" />
<line x1="527" y1="327.1" x2="561" y2="327.1" stroke="#2a2a2a" stroke-width="0.8" stroke-dasharray="6,2,2,2"/>
<rect x="552" y="318.6" width="12" height="4.2999999999999545" fill="url(#hB2)" stroke="#2a2a2a" stroke-width="1.0"/>
<polygon points="507.9,337.9 543.6,337.9 543.6,331.4 565,331.4 565,343.6 600,343.6 600,345 595,347.9 589.3,355 507.9,355" stroke="#2a2a2a" stroke-width="1.0" fill="url(#hB2)" />
<circle cx="522.9" cy="342.1" r="3.8" fill="#fff" stroke="#2a2a2a" stroke-width="1.0"/>
<rect x="565" y="324.3" width="35" height="19.30000000000001" fill="url(#st)" stroke="#2a2a2a" stroke-width="1.0"/>
<circle cx="583.6" cy="347.6" r="3" fill="#fff" stroke="#2a2a2a" stroke-width="1.0"/>
<polygon points="604.9,324.7 649.2,324.7 649.2,330.7 654,330.7 654,341 651,343.6 644,343.6 644,350.5 610.6,350.5 610.6,343.6 604.9,343.6 601.2,335" stroke="#2a2a2a" stroke-width="1.0" fill="url(#xh2)" />
<circle cx="614.9" cy="347" r="3.7" fill="#fff" stroke="#2a2a2a" stroke-width="1.0"/>
<circle cx="639.2" cy="347" r="3.7" fill="#fff" stroke="#2a2a2a" stroke-width="1.0"/>
<polyline points="650,344 657.7,344 657.7,325.7 665.7,325.7" stroke="#7a7a7a" stroke-width="1.4" fill="none" />
<line x1="665.7" y1="337" x2="665.7" y2="393.6" stroke="#7a7a7a" stroke-width="1.4" stroke-dasharray="25,4,3,4"/>
<line x1="496.8" y1="393.6" x2="665.2" y2="393.6" stroke="#7a7a7a" stroke-width="1.4" stroke-dasharray="25,5,4,5"/>
<polyline points="496.8,393.6 496.8,376.5 607.6,376.5 607.6,345" stroke="#7a7a7a" stroke-width="1.4" fill="none" />
<line x1="599.2" y1="345" x2="599.2" y2="421.2" stroke="#7a7a7a" stroke-width="1.4" />
<line x1="626.8" y1="351" x2="626.8" y2="393.6" stroke="#7a7a7a" stroke-width="1.4" stroke-dasharray="20,4,3,4"/>
<line x1="642.9" y1="351" x2="642.9" y2="445.2" stroke="#7a7a7a" stroke-width="1.4" />
<line x1="508.3" y1="355" x2="508.3" y2="445.6" stroke="#7a7a7a" stroke-width="1.4" />
<line x1="508" y1="287" x2="508" y2="311" stroke="#7a7a7a" stroke-width="1.4" />
<line x1="543.5" y1="287" x2="543.5" y2="311" stroke="#7a7a7a" stroke-width="1.4" />
<line x1="508" y1="289.4" x2="543.5" y2="289.4" stroke="#7a7a7a" stroke-width="1.4" />
<polygon points="508.00,289.40 514.00,287.60 514.00,291.20" fill="#111"/>
<polygon points="543.50,289.40 537.50,287.60 537.50,291.20" fill="#111"/>
<text x="526.9" y="281.4" text-anchor="middle" dominant-baseline="central" font-size="12">22</text>
<line x1="508.3" y1="419.2" x2="599.2" y2="419.2" stroke="#7a7a7a" stroke-width="1.4" />
<polygon points="508.30,419.20 514.30,417.40 514.30,421.00" fill="#111"/>
<polygon points="599.20,419.20 593.20,417.40 593.20,421.00" fill="#111"/>
<line x1="508.3" y1="444.9" x2="642.9" y2="444.9" stroke="#7a7a7a" stroke-width="1.4" />
<polygon points="508.30,444.90 514.30,443.10 514.30,446.70" fill="#111"/>
<polygon points="642.90,444.90 636.90,443.10 636.90,446.70" fill="#111"/>
<text x="557.3" y="412" text-anchor="middle" dominant-baseline="central" font-size="12">L5</text>
<text x="576" y="439.6" text-anchor="middle" dominant-baseline="central" font-size="12">L6</text>
</g>
</svg></body></html>
